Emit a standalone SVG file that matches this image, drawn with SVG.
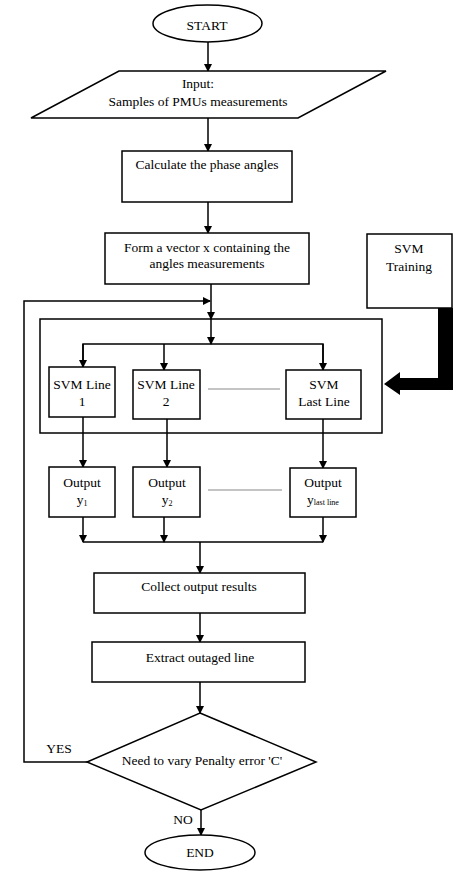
<svg xmlns="http://www.w3.org/2000/svg" width="466" height="878" viewBox="0 0 466 878">
<defs>
<marker id="ah" markerWidth="8" markerHeight="8" refX="7" refY="4" orient="auto" markerUnits="userSpaceOnUse">
<path d="M0,0 L8,4 L0,8 Z" fill="#000"/>
</marker>
<style>
.s{fill:#fff;stroke:#000;stroke-width:1.5}
.t{font-family:"Liberation Serif","Times New Roman",serif;font-size:13.5px;fill:#000;text-anchor:middle}
.c{fill:none;stroke:#000;stroke-width:1.5}
.a{fill:none;stroke:#000;stroke-width:1.5;marker-end:url(#ah)}
.g{stroke:#888;stroke-width:1}
</style>
</defs>
<rect width="466" height="878" fill="#fff"/>
<g id="connectors">
<line class="a" x1="208" y1="42" x2="208" y2="71"/>
<line class="a" x1="208" y1="118" x2="208" y2="151"/>
<line class="a" x1="208" y1="202" x2="208" y2="233"/>
<line class="a" x1="211" y1="284" x2="211" y2="319"/>
<line class="a" x1="211" y1="319" x2="211" y2="344"/>
<polyline class="c" points="83,367 83,344 323,344 323,370"/>
<line class="a" x1="83" y1="344" x2="83" y2="367"/>
<line class="a" x1="164" y1="344" x2="164" y2="370"/>
<line class="a" x1="323" y1="344" x2="323" y2="370"/>
<line class="a" x1="83" y1="417" x2="83" y2="467"/>
<line class="a" x1="167" y1="419" x2="167" y2="467"/>
<line class="a" x1="323" y1="419" x2="323" y2="468"/>
<line class="a" x1="83" y1="517" x2="83" y2="542"/>
<line class="a" x1="164" y1="517" x2="164" y2="542"/>
<line class="a" x1="323" y1="517" x2="323" y2="542"/>
<line class="c" x1="83" y1="542" x2="323" y2="542"/>
<line class="a" x1="200" y1="542" x2="200" y2="573"/>
<line class="a" x1="200" y1="613" x2="200" y2="642"/>
<line class="a" x1="200" y1="682" x2="200" y2="713"/>
<line class="a" x1="201" y1="810" x2="201" y2="835"/>
<polyline class="a" points="87,762 24,762 24,301 210,301"/>
<polygon points="438,308 453,308 453,390 400,390 400,395 384,384 400,372 400,378 438,378" fill="#000"/>
<line class="g" x1="208" y1="389" x2="280" y2="389"/>
<line class="g" x1="208" y1="490" x2="282" y2="490"/>
</g>
<g id="start">
<ellipse class="s" cx="207.5" cy="23.5" rx="54.5" ry="18.5"/>
<text class="t" x="207" y="30">START</text>
</g>
<g id="input">
<polygon class="s" points="119,71 386,71 298,118 31,118"/>
<text class="t" x="198" y="88">Input:</text>
<text class="t" x="198" y="106">Samples of PMUs measurements</text>
</g>
<g id="calc">
<rect class="s" x="122" y="151" width="170" height="51"/>
<text class="t" x="207" y="169">Calculate the phase angles</text>
</g>
<g id="form">
<rect class="s" x="105" y="233" width="204" height="51"/>
<text class="t" x="207" y="252">Form a vector x containing the</text>
<text class="t" x="207" y="268">angles measurements</text>
</g>
<g id="training">
<rect class="s" x="367" y="234" width="85" height="74"/>
<text class="t" x="409" y="253">SVM</text>
<text class="t" x="409" y="271">Training</text>
</g>
<g id="svmgroup">
<rect class="s" x="40" y="319" width="342" height="114" fill="none" style="fill:none"/>
</g>
<g id="svm1">
<rect class="s" x="49" y="367" width="66" height="50"/>
<text class="t" x="82" y="389">SVM Line</text>
<text class="t" x="82" y="406">1</text>
</g>
<g id="svm2">
<rect class="s" x="133" y="370" width="67" height="49"/>
<text class="t" x="166" y="389">SVM Line</text>
<text class="t" x="166" y="406">2</text>
</g>
<g id="svmlast">
<rect class="s" x="286" y="370" width="75" height="49"/>
<text class="t" x="324" y="389">SVM</text>
<text class="t" x="324" y="406">Last Line</text>
</g>
<g id="out1">
<rect class="s" x="49" y="467" width="66" height="50"/>
<text class="t" x="82" y="487">Output</text>
<text class="t" x="82" y="504">y<tspan font-size="8" dy="2">1</tspan></text>
</g>
<g id="out2">
<rect class="s" x="133" y="467" width="67" height="50"/>
<text class="t" x="167" y="487">Output</text>
<text class="t" x="167" y="504">y<tspan font-size="8" dy="2">2</tspan></text>
</g>
<g id="outlast">
<rect class="s" x="290" y="468" width="66" height="49"/>
<text class="t" x="323" y="487">Output</text>
<text class="t" x="323" y="504">y<tspan font-size="8" dy="1">last line</tspan></text>
</g>
<g id="collect">
<rect class="s" x="94" y="573" width="211" height="40"/>
<text class="t" x="199" y="591">Collect output results</text>
</g>
<g id="extract">
<rect class="s" x="92" y="642" width="213" height="40"/>
<text class="t" x="200" y="662">Extract outaged line</text>
</g>
<g id="decision">
<polygon class="s" points="200,713 316,762 201,810 87,762"/>
<text class="t" x="202" y="765">Need to vary Penalty error 'C'</text>
<text class="t" x="59" y="753">YES</text>
<text class="t" x="183" y="824">NO</text>
</g>
<g id="end">
<ellipse class="s" cx="200" cy="852.5" rx="55" ry="17.5"/>
<text class="t" x="200" y="857">END</text>
</g>
</svg>
